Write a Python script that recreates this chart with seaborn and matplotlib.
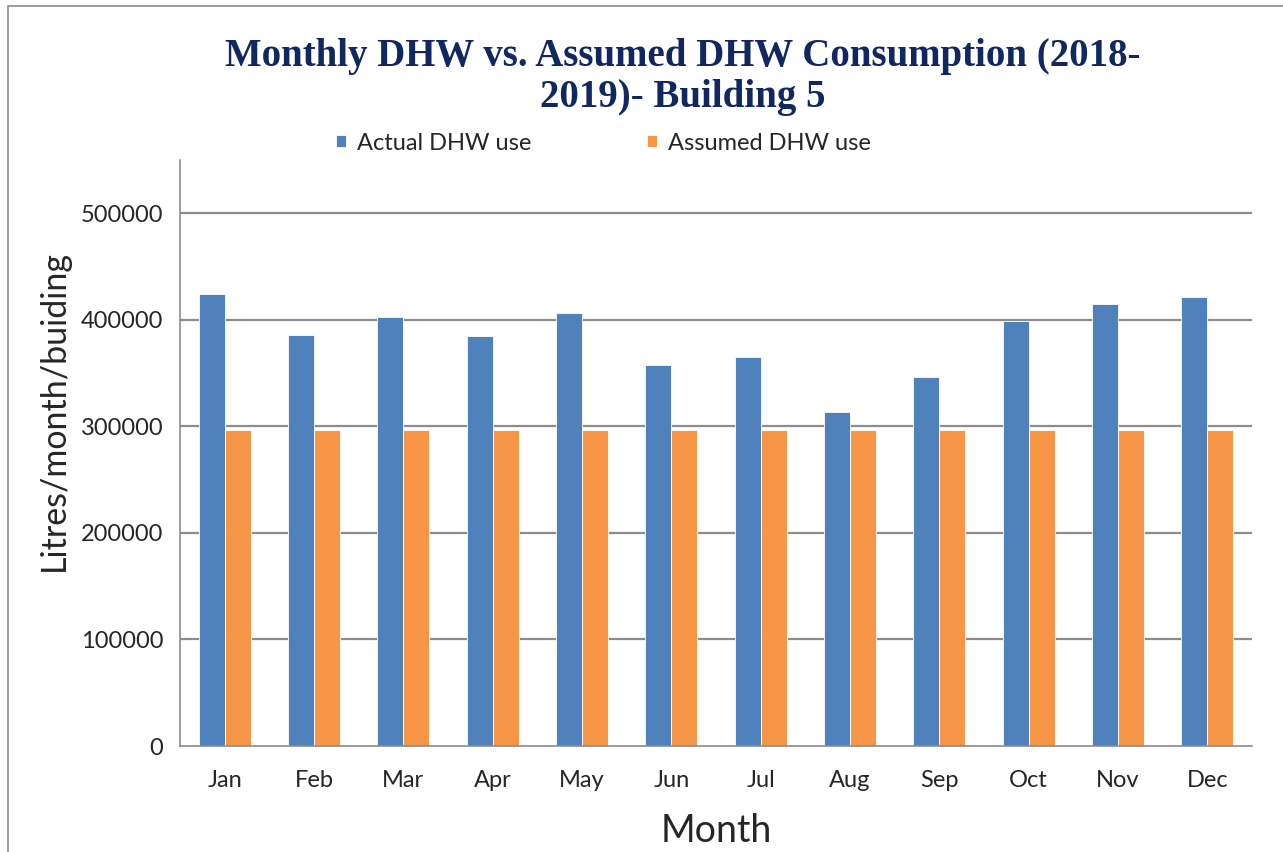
import numpy as np
import pandas as pd
import matplotlib
matplotlib.use("Agg")
import matplotlib.pyplot as plt
import seaborn as sns
from matplotlib.patches import Rectangle

months = ["Jan", "Feb", "Mar", "Apr", "May", "Jun", "Jul", "Aug", "Sep", "Oct", "Nov", "Dec"]
actual = [424000, 386000, 403000, 385000, 406000, 358000, 365000, 313500, 346000, 399000, 415000, 421500]
assumed = [297000] * 12
series_names = ["Actual DHW use", "Assumed DHW use"]
y_ticks = [0, 100000, 200000, 300000, 400000, 500000]

df = pd.DataFrame({
    "Month": months * 2,
    "value": actual + assumed,
    "series": [series_names[0]] * 12 + [series_names[1]] * 12,
})

sns.set_style("white")
plt.rcParams["font.family"] = ["Lato", "DejaVu Sans"]

fig = plt.figure(figsize=(12.83, 8.52), dpi=100)
ax = fig.add_axes([0.1403, 0.1244, 0.8355, 0.6878])

sns.barplot(data=df, x="Month", y="value", hue="series", order=months,
            palette=["#4F81BD", "#F79646"], width=0.58, ax=ax,
            edgecolor="white", linewidth=0.6, saturation=1, legend=True)

ax.set_ylim(0, 550000)
ax.set_xlim(-0.5, 11.5)
ax.set_yticks(y_ticks)
ax.set_yticklabels([str(v) for v in y_ticks], fontsize=17)
ax.tick_params(axis="x", which="major", length=0, labelsize=17, pad=17)
ax.set_xticks(np.arange(-0.5, 12, 1), minor=True)
ax.tick_params(axis="x", which="minor", length=7, color="#8c8c8c", width=1)
ax.tick_params(axis="y", length=6, color="#8c8c8c", width=1, pad=6)
for y in y_ticks[1:]:
    ax.axhline(y, color="#8c8c8c", lw=1.6, zorder=0)

for s in ["top", "right"]:
    ax.spines[s].set_visible(False)
for s in ["left", "bottom"]:
    ax.spines[s].set_color("#8c8c8c")
    ax.spines[s].set_linewidth(1.2)

ax.set_xlabel("Month", fontsize=27, labelpad=16)
ax.set_ylabel("Litres/month/buiding", fontsize=24.5)
ax.yaxis.set_label_coords(-0.103, 0.573)

leg = ax.legend(loc="center", bbox_to_anchor=(0.395, 1.029), ncol=2, frameon=False,
                fontsize=17, handlelength=0.42, handleheight=0.42, handletextpad=0.45,
                columnspacing=4.9, borderaxespad=0)

fig.text(0.532, 0.91, "Monthly DHW vs. Assumed DHW Consumption (2018-\n2019)- Building 5",
         ha="center", va="center", fontsize=28, fontweight="bold", color="#10275F",
         family=["Liberation Serif", "DejaVu Serif"], linespacing=1.15)

fig.patches.append(Rectangle((0.006, -0.01), 1.2, 1.003, transform=fig.transFigure,
                             fill=False, edgecolor="#8c8c8c", lw=1.2))

fig.savefig("out.png", dpi=100)
